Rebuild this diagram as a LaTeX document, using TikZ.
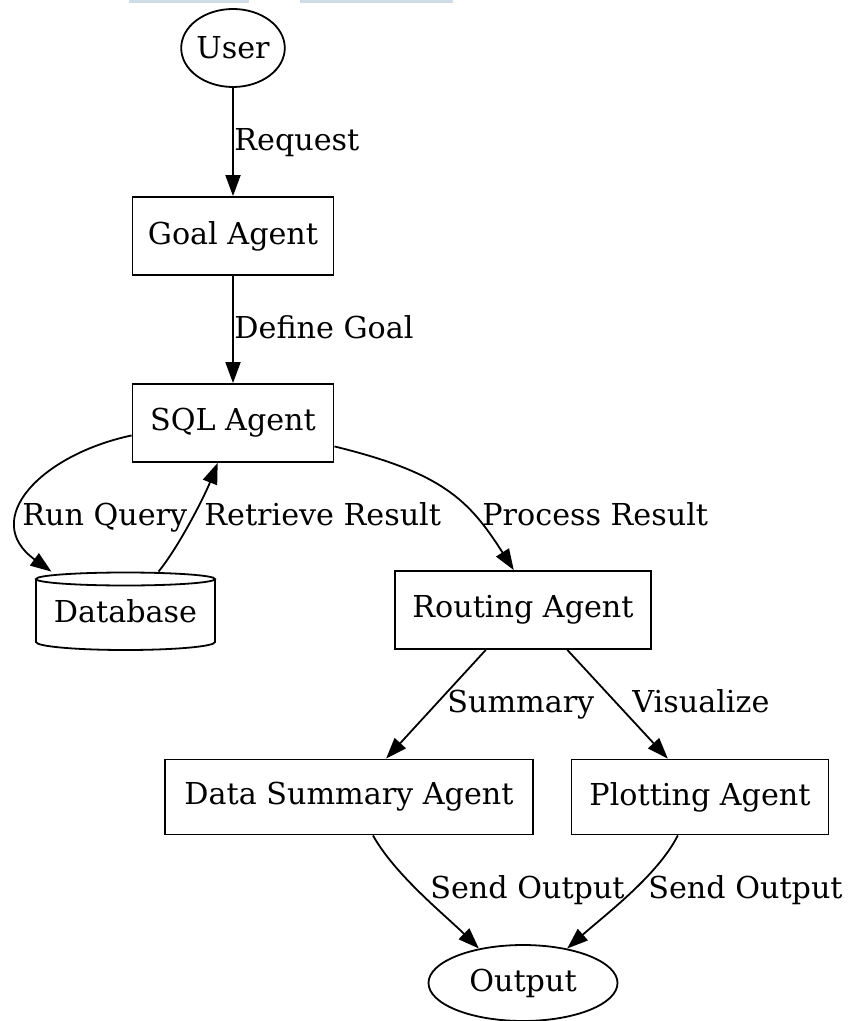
\documentclass[tikz,border=0pt]{standalone}
\usepackage{fontspec}
\setmainfont{DejaVu Serif}
\usetikzlibrary{arrows.meta}
\usetikzlibrary{shapes.geometric}
\definecolor{barblue}{RGB}{206,220,232}
\tikzset{
  agent/.style={draw,line width=0.9pt,minimum width=100.5pt,minimum height=39pt,inner sep=0pt},
  terminal/.style={draw,ellipse,line width=0.9pt,inner sep=0pt},
  flow/.style={line width=0.9pt,-{Triangle[length=10.5pt,width=7.5pt]}},
  lbl/.style={anchor=base west,inner sep=0pt}
}

\begin{document}
\begin{tikzpicture}[x=0.5pt,y=0.5pt,yscale=-1,xscale=1,font=\fontsize{15.1}{18}\selectfont]
\useasboundingbox (0,0) rectangle (847,1021);

%Shape: Rectangle (top bars)
\fill [barblue] (129,0) rectangle (249,3) ;
\fill [barblue] (300,0) rectangle (453,3) ;

%Shape: Ellipse
\node [terminal,minimum width=45pt,minimum height=39pt] (user) at (233,48) {User};
%Shape: Rectangle
\node [agent] (goal) at (233,236) {Goal Agent};
%Shape: Rectangle
\node [agent] (sql) at (233,423) {SQL Agent};
%Shape: Cylinder
\node [minimum width=89.5pt,minimum height=39pt,inner sep=0pt] (db) at (125.5,611) {Database};
\draw [line width=0.9pt] (36,579) -- (36,642) arc [start angle=180,end angle=0,x radius=89.5,y radius=8] -- (215,579) ;
\draw [line width=0.9pt] (125.5,579) ellipse [x radius=89.5,y radius=6.5] ;
%Shape: Rectangle
\node [agent,minimum width=128pt] (route) at (523,610) {Routing Agent};
%Shape: Rectangle
\node [agent,minimum width=184pt,minimum height=37.5pt] (summ) at (349,797) {Data Summary Agent};
%Shape: Rectangle
\node [agent,minimum width=128.5pt,minimum height=37.5pt] (plot) at (700,797) {Plotting Agent};
%Shape: Ellipse
\node [terminal,minimum width=94.5pt,minimum height=38pt] (out) at (523,983) {Output};

%Straight Lines
\draw [flow] (user) -- (goal) ;
\draw [flow] (goal) -- (sql) ;
\draw [flow] (route.227) -- (summ.46) ;
\draw [flow] (route.318) -- (plot.130) ;
%Curve Lines
\draw [flow] (sql.187) .. controls (40,455) and (-20,520) .. (db.152) ;
\draw [flow] (db.50) .. controls (180,545) and (205,495) .. (sql.249) ;
\draw [flow] (sql.347) .. controls (443,473) and (469,500) .. (route.103) ;
\draw [flow] (summ.302) .. controls (395,875) and (445,915) .. (out.142) ;
\draw [flow] (plot.240) .. controls (658,875) and (605,915) .. (out.38) ;

% Text Node
\node [lbl] (tRequest) at (234,151) {Request};
% Text Node
\node [lbl] (tDefine) at (234,338) {Define Goal};
% Text Node
\node [lbl] (tRun) at (22,525) {Run Query};
% Text Node
\node [lbl] (tRetrieve) at (204,525) {Retrieve Result};
% Text Node
\node [lbl] (tProcess) at (482,525) {Process Result};
% Text Node
\node [lbl] (tSummary) at (447,712) {Summary};
% Text Node
\node [lbl] (tVisual) at (632,712) {Visualize};
% Text Node
\node [lbl] (tSend) at (430,898) {Send Output};
% Text Node
\node [lbl] (tSendB) at (648,898) {Send Output};

\end{tikzpicture}
\end{document}
